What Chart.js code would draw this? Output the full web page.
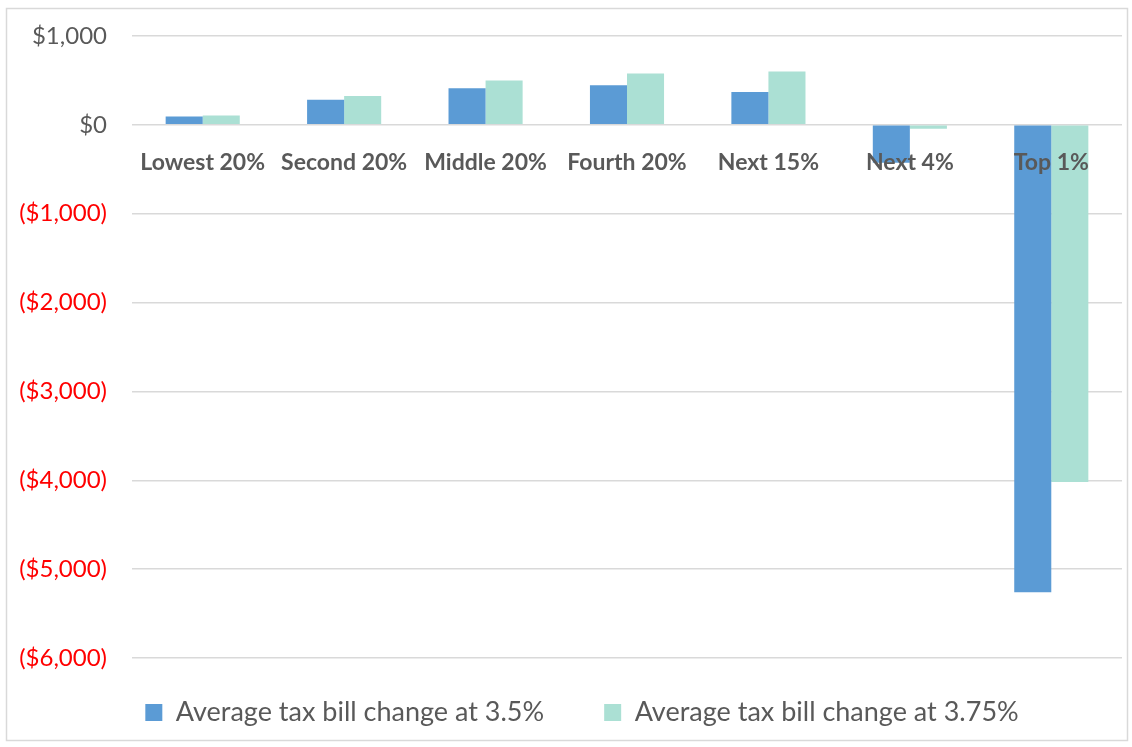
<!DOCTYPE html>
<html>
<head>
<meta charset="utf-8">
<script src="https://cdn.jsdelivr.net/npm/chart.js@4.4.1/dist/chart.umd.min.js"></script>
<style>
  html, body { margin: 0; padding: 0; background: #fff; }
  #wrap { width: 1132px; height: 747px; position: relative; }
</style>
</head>
<body>
<div id="wrap"><canvas id="barChart" width="1132" height="747"></canvas></div>
<script>
const categories = ['Lowest 20%', 'Second 20%', 'Middle 20%', 'Fourth 20%', 'Next 15%', 'Next 4%', 'Top 1%'];
const seriesNames = ['Average tax bill change at 3.5%', 'Average tax bill change at 3.75%'];
const changeAt35 = [94, 283, 411, 445, 370, -426, -5260];
const changeAt375 = [105, 325, 498, 577, 600, -45, -4020];
const yTicks = [1000, 0, -1000, -2000, -3000, -4000, -5000, -6000];

// dollar format, negatives in parentheses
function money(v) {
  const s = '$' + Math.abs(v).toLocaleString('en-US');
  return v < 0 ? '(' + s + ')' : s;
}

// light frame round the whole chart; legend nudged right and up like the original
const framePlugin = {
  id: 'frame',
  afterLayout(chart) {
    const lg = chart.legend;
    lg.left += 30;
    lg.top -= 19;
    lg.bottom -= 19;
  },
  beforeDraw(chart) {
    const c = chart.ctx;
    c.save();
    c.strokeStyle = '#d9d9d9';
    c.lineWidth = 1.5;
    c.strokeRect(6.5, 8.5, 1121, 732);
    c.restore();
  }
};

const ctx = document.getElementById('barChart').getContext('2d');
new Chart(ctx, {
  type: 'bar',
  data: {
    labels: categories,
    datasets: [{
      label: seriesNames[0],
      data: changeAt35,
      backgroundColor: '#5b9bd5'
    }, {
      label: seriesNames[1],
      data: changeAt375,
      backgroundColor: '#abe0d4'
    }]
  },
  options: {
    responsive: false,
    animation: false,
    categoryPercentage: 0.524,
    barPercentage: 1,
    layout: { padding: { left: 12, right: 10, top: 36, bottom: -8 } },
    scales: {
      x: {
        position: { y: 0 },
        afterFit(scale) { scale.height = 0; },
        grid: { display: false, drawTicks: false },
        border: { display: false },
        ticks: {
          z: 1,
          color: '#595959',
          padding: 24,
          autoSkip: false,
          maxRotation: 0,
          font: { family: 'Lato', size: 23, weight: 'bold' }
        }
      },
      y: {
        min: -6000,
        max: 1000,
        afterFit(scale) {
          scale.width = 120;
          scale.paddingTop = 0;
          scale.paddingBottom = 0;
        },
        afterBuildTicks(scale) { scale.ticks = yTicks.map(v => ({ value: v })); },
        grid: { color: '#d9d9d9', lineWidth: 1.5, drawTicks: false },
        border: { display: false },
        ticks: {
          padding: 25,
          callback: v => money(v),
          color: c => (c.tick && c.tick.value < 0) ? '#ff0000' : '#595959',
          font: { family: 'Lato', size: 24 }
        }
      }
    },
    plugins: {
      legend: {
        position: 'bottom',
        labels: {
          boxWidth: 17,
          boxHeight: 17,
          padding: 60,
          color: '#595959',
          font: { family: 'Lato', size: 27 }
        }
      },
      tooltip: { enabled: false }
    }
  },
  plugins: [framePlugin]
});
</script>
</body>
</html>
